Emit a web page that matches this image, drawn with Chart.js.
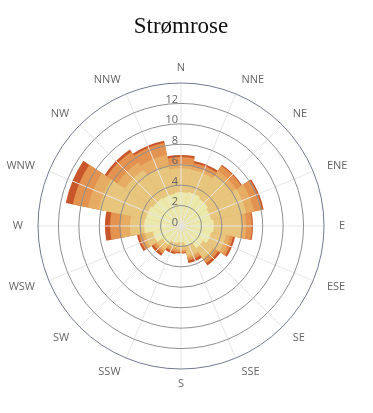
<!DOCTYPE html>
<html lang="no">
<head>
<meta charset="UTF-8">
<meta name="viewport" content="width=device-width, initial-scale=1.0">
<title>Strømrose</title>
<script src="https://cdn.jsdelivr.net/npm/chart.js"></script>
<style>
  html, body { margin: 0; padding: 0; background: #ffffff; }
  .rose-box { width: 373px; height: 413px; }
</style>
</head>
<body>
<div class="rose-box"><canvas id="roseChart"></canvas></div>
<script>
// compass sectors, clockwise from north
const directions = ['N', 'NNE', 'NE', 'ENE', 'E', 'ESE', 'SE', 'SSE',
                    'S', 'SSW', 'SW', 'WSW', 'W', 'WNW', 'NW', 'NNW'];

// one array per stacked band, innermost first
const band1 = [3.3, 3.4, 3.2, 3.0, 3.2, 3.0, 2.6, 2.0, 1.6, 1.7, 2.2, 2.8, 3.6, 3.5, 3.3, 3.2];
const band2 = [2.35, 2.2, 2.8, 3.5, 2.7, 1.5, 1.2, 1.0, 0.7, 0.5, 0.6, 0.8, 1.4, 4.7, 3.3, 2.8];
const band3 = [0.45, 0.3, 0.5, 0.8, 0.5, 0.4, 0.3, 0.2, 0.15, 0.2, 0.2, 0.3, 0.9, 1.1, 0.9, 1.1];
const band4 = [0.65, 0.4, 0.6, 0.8, 0.55, 0.3, 0.3, 0.25, 0.15, 0.2, 0.25, 0.3, 1.05, 1.5, 1.25, 1.2];
const band5 = [0.2, 0.2, 0.1, 0.15, 0.1, 0.2, 0.25, 0.25, 0.1, 0.2, 0.25, 0.2, 0.5, 0.7, 0.25, 0.2];

const bands = [band1, band2, band3, band4, band5];
const bandColors = ['#ece9ad', '#e8c57c', '#e7ac63', '#e3924f', '#c9562a'];

const radialMax = 14;
const radialStep = 2;

// polarArea does not stack, so each band is drawn as its running total
// (band 1 ends up on top since Chart.js paints dataset 0 last)
const running = directions.map(() => 0);
const datasets = bands.map((band, k) => {
  const totals = band.map((v, i) => {
    running[i] += v;
    return +running[i].toFixed(3);
  });
  return {
    label: 'Serie ' + (k + 1),
    data: totals,
    backgroundColor: bandColors[k],
    borderWidth: 0
  };
});

// spokes, compass labels and value labels in Highcharts style
const roseDecor = {
  id: 'roseDecor',
  afterDatasetsDraw(chart) {
    const r = chart.scales.r;
    const ctx = chart.ctx;
    ctx.save();
    ctx.strokeStyle = '#e6e6e6';
    ctx.lineWidth = 1;
    directions.forEach((d, i) => {
      const p = r.getPointPosition(i + 0.5, r.drawingArea);
      ctx.beginPath();
      ctx.moveTo(r.xCenter, r.yCenter);
      ctx.lineTo(p.x, p.y);
      ctx.stroke();
    });
    ctx.restore();
  },
  afterDraw(chart) {
    const r = chart.scales.r;
    const ctx = chart.ctx;
    ctx.save();
    ctx.font = '11px "Open Sans", sans-serif';
    ctx.fillStyle = '#666666';

    // compass labels just outside the pane
    ctx.textBaseline = 'middle';
    directions.forEach((d, i) => {
      const p = r.getPointPosition(i + 0.5, r.drawingArea + 15);
      if (p.x > r.xCenter + 1) ctx.textAlign = 'left';
      else if (p.x < r.xCenter - 1) ctx.textAlign = 'right';
      else ctx.textAlign = 'center';
      ctx.fillText(d, p.x, p.y);
    });

    // value labels sit on top of each ring, along the north spoke
    ctx.textAlign = 'right';
    ctx.textBaseline = 'alphabetic';
    r.ticks.forEach(t => {
      if (t.value >= radialMax) return;
      const dist = r.getDistanceFromCenterForValue(t.value);
      ctx.fillText(String(t.value), r.xCenter - 3, r.yCenter - dist - 0.5);
    });
    ctx.restore();
  }
};

const ctx = document.getElementById('roseChart').getContext('2d');
const roseChart = new Chart(ctx, {
  type: 'polarArea',
  data: { labels: directions, datasets: datasets },
  options: {
    responsive: true,
    maintainAspectRatio: false,
    animation: false,
    layout: { padding: { left: 38, right: 49, top: 0, bottom: 43 } },
    plugins: {
      legend: { display: false },
      tooltip: { enabled: false },
      title: {
        display: true,
        text: 'Strømrose',
        color: '#111111',
        font: { family: '"Liberation Serif", "Times New Roman", serif', size: 23, weight: 'normal', lineHeight: 1.2 },
        padding: { top: 13, bottom: 43 }
      }
    },
    scales: {
      r: {
        min: 0,
        max: radialMax,
        startAngle: -11.25,
        ticks: { display: false, stepSize: radialStep },
        pointLabels: { display: false },
        angleLines: { display: false },
        grid: {
          circular: true,
          z: 1,
          lineWidth: 1,
          color: c => (c.tick && c.tick.value === radialMax) ? '#737a90' : '#8f8f8f'
        }
      }
    }
  },
  plugins: [roseDecor]
});
</script>
</body>
</html>
